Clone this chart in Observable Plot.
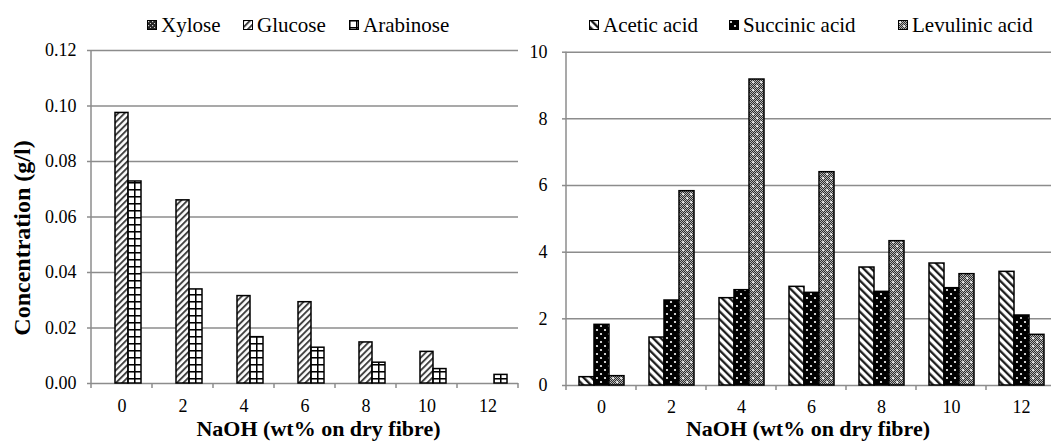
<!DOCTYPE html>
<html>
<head>
<meta charset="utf-8">
<script src="https://cdn.jsdelivr.net/npm/d3@7"></script>
<script src="https://cdn.jsdelivr.net/npm/@observablehq/plot@0.6"></script>
<style>
  html, body { margin: 0; padding: 0; background: white; }
  #wrap { position: relative; width: 1051px; height: 442px; overflow: hidden; background: white; font-family: 'Liberation Serif', 'Times New Roman', serif; }
  .panel { position: absolute; top: 0; }
  .item { position: absolute; top: 13px; display: flex; align-items: center; font-size: 21px; line-height: 24px; color: black; white-space: nowrap; }
  .item .sw { width: 10px; height: 10px; margin-right: 4px; }
</style>
</head>
<body>
<svg width="0" height="0" style="position:absolute">
  <defs>
    <pattern id="pChk" patternUnits="userSpaceOnUse" width="2" height="2">
      <rect width="2" height="2" fill="#b4b4b4"/>
      <rect width="1" height="1" fill="#2e2e2e"/>
      <rect x="1" y="1" width="1" height="1" fill="#2e2e2e"/>
    </pattern>
    <pattern id="pXyl" patternUnits="userSpaceOnUse" width="4" height="4">
      <rect width="4" height="4" fill="#262626"/>
      <rect x="1" y="1" width="1.2" height="1.2" fill="#d0d0d0"/>
      <rect x="3" y="3" width="1.2" height="1.2" fill="#d0d0d0"/>
    </pattern>
    <pattern id="pGlu" patternUnits="userSpaceOnUse" width="4.5" height="4.5" patternTransform="rotate(45)">
      <rect width="4.5" height="4.5" fill="white"/>
      <line x1="1" y1="0" x2="1" y2="4.5" stroke="#3c3c3c" stroke-width="1.9"/>
    </pattern>
    <pattern id="pAra" patternUnits="userSpaceOnUse" width="7" height="7">
      <rect width="7" height="7" fill="white"/>
      <line x1="0.75" y1="0" x2="0.75" y2="7" stroke="black" stroke-width="1.6"/>
      <line x1="0" y1="0.75" x2="7" y2="0.75" stroke="black" stroke-width="1.6"/>
    </pattern>
    <pattern id="pAce" patternUnits="userSpaceOnUse" width="5.5" height="5.5" patternTransform="rotate(-45)">
      <rect width="5.5" height="5.5" fill="white"/>
      <line x1="1.2" y1="0" x2="1.2" y2="5.5" stroke="#111" stroke-width="2.2"/>
    </pattern>
    <pattern id="pSuc" patternUnits="userSpaceOnUse" width="8" height="8">
      <rect width="8" height="8" fill="black"/>
      <circle cx="2" cy="2" r="1.1" fill="white"/>
      <circle cx="6" cy="6" r="1.1" fill="white"/>
    </pattern>
    <pattern id="pLev" patternUnits="userSpaceOnUse" width="8" height="8">
      <rect width="8" height="8" fill="url(#pChk)"/>
      <rect x="1" y="1.6" width="2.2" height="1" fill="white"/>
      <rect x="1.6" y="1" width="1" height="2.2" fill="white"/>
      <rect x="5" y="5.6" width="2.2" height="1" fill="white"/>
      <rect x="5.6" y="5" width="1" height="2.2" fill="white"/>
    </pattern>
  </defs>
</svg>
<div id="wrap"></div>
<script>
// ---------- data ----------
const groups = ["0", "2", "4", "6", "8", "10", "12"];

const sugarSeries = ["Xylose", "Glucose", "Arabinose"];
const xylose    = [0, 0, 0, 0, 0, 0, 0];
const glucose   = [0.0975, 0.066, 0.0315, 0.0293, 0.0148, 0.0114, 0];
const arabinose = [0.0728, 0.0339, 0.0167, 0.0129, 0.0075, 0.0052, 0.0031];
const sugarTicks = [0, 0.02, 0.04, 0.06, 0.08, 0.10, 0.12];

const acidSeries = ["Acetic acid", "Succinic acid", "Levulinic acid"];
const acetic    = [0.25, 1.44, 2.62, 2.96, 3.54, 3.66, 3.41];
const succinic  = [1.82, 2.55, 2.86, 2.78, 2.81, 2.92, 2.10];
const levulinic = [0.28, 5.83, 9.18, 6.40, 4.33, 3.34, 1.52];
const acidTicks = [0, 2, 4, 6, 8, 10];

const xLabel = "NaOH (wt% on dry fibre)";
const yLabel = "Concentration (g/l)";

const sugarFills = ["url(#pXyl)", "url(#pGlu)", "url(#pAra)"];
const acidFills  = ["url(#pAce)", "url(#pSuc)", "url(#pLev)"];

// ---------- drawing ----------
const GRID = "#8c8c8c";
const FONT = "'Liberation Serif', 'Times New Roman', serif";

function panel(cfg) {
  const data = groups.flatMap((g, i) =>
    cfg.series.map((s, j) => ({group: g, series: s, value: cfg.values[j][i]}))
  ).filter(d => d.value > 0);
  const svg = Plot.plot({
    width: cfg.width,
    height: 442,
    marginLeft: cfg.ml, marginRight: cfg.mr, marginTop: cfg.mt, marginBottom: cfg.mb,
    style: {fontFamily: FONT, fontSize: "18px", background: "white", color: "black"},
    fx: {domain: groups, padding: 0, axis: null},
    x: {domain: cfg.series, paddingInner: 0, paddingOuter: cfg.po, axis: null},
    y: {domain: [0, cfg.ticks[cfg.ticks.length - 1]], axis: null},
    color: {type: "ordinal", domain: cfg.series, range: cfg.fills},
    marks: [
      Plot.gridY(cfg.ticks, {stroke: GRID, strokeOpacity: 1, strokeWidth: 1.5}),
      Plot.axisY({ticks: cfg.ticks, tickFormat: cfg.fmt, tickSize: 4, tickPadding: cfg.tp,
                  stroke: GRID, strokeWidth: 1.5, strokeOpacity: 1, label: null}),
      Plot.axisFx({anchor: "bottom", tickSize: 0, tickPadding: cfg.xtp, label: null}),
      Plot.barY(data, {fx: "group", x: "series", y: "value", fill: "series", stroke: "black", strokeWidth: 1.5})
    ]
  });
  const fx = svg.scale("fx"), y = svg.scale("y");
  const bounds = groups.map(g => fx.apply(g));
  bounds.push(fx.apply(groups[groups.length - 1]) + fx.bandwidth);
  const y0 = y.apply(0), yTop = y.apply(cfg.ticks[cfg.ticks.length - 1]);
  const s = d3.select(svg);
  const g = s.append("g").attr("stroke", GRID).attr("stroke-width", 1.5);
  g.selectAll("line.b").data(bounds).join("line")
    .attr("x1", d => d).attr("x2", d => d).attr("y1", y0).attr("y2", y0 + 5);
  g.append("line").attr("x1", bounds[0]).attr("x2", bounds[0]).attr("y1", yTop).attr("y2", y0);
  s.append("text")
    .attr("x", (bounds[0] + bounds[bounds.length - 1]) / 2 + (cfg.xlShift || 0))
    .attr("y", cfg.xlY)
    .attr("text-anchor", "middle").attr("font-weight", "bold").attr("font-size", 22)
    .attr("font-family", FONT).attr("fill", "black")
    .text(xLabel);
  if (cfg.ylabel) {
    s.append("text")
      .attr("transform", `translate(22,238) rotate(-90)`)
      .attr("text-anchor", "middle").attr("dy", "0.35em")
      .attr("font-weight", "bold").attr("font-size", 24)
      .attr("font-family", FONT).attr("fill", "black")
      .text(cfg.ylabel);
  }
  return svg;
}

function legend(series, fills, lefts) {
  series.forEach((name, i) => {
    const item = document.createElement("div");
    item.className = "item";
    item.style.left = lefts[i] + "px";
    item.innerHTML = `<svg class="sw" width="10" height="10"><rect x="0.5" y="0.5" width="9" height="9" fill="${fills[i]}" stroke="black" stroke-width="1"/></svg><span>${name}</span>`;
    wrap.appendChild(item);
  });
}

const wrap = document.getElementById("wrap");

const left = panel({
  series: sugarSeries, values: [xylose, glucose, arabinose], fills: sugarFills,
  ticks: sugarTicks, fmt: d3.format(".2f"), width: 530,
  ml: 90, mr: 11, mt: 50, mb: 59, po: 0.77, tp: 11, xtp: 16, xlY: 436, xlShift: 14, ylabel: yLabel
});
left.classList.add("panel");
left.style.left = "0px";
wrap.appendChild(left);

const right = panel({
  series: acidSeries, values: [acetic, succinic, levulinic], fills: acidFills,
  ticks: acidTicks, fmt: d => String(d), width: 540,
  ml: 35, mr: 13, mt: 51.7, mb: 57, po: 0.737, tp: 15, xtp: 15, xlY: 436, xlShift: -3
});
right.classList.add("panel");
right.style.left = "530px";
wrap.appendChild(right);

legend(sugarSeries, sugarFills, [147, 243, 349]);
legend(acidSeries, acidFills, [589, 729, 898]);
</script>
</body>
</html>
